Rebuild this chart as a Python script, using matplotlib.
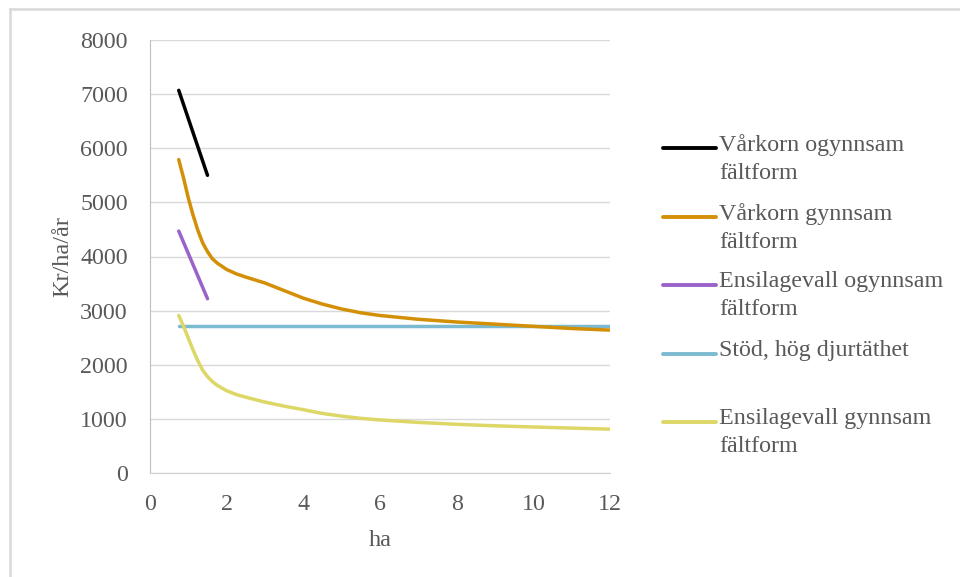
import matplotlib
matplotlib.use("Agg")
import matplotlib.pyplot as plt
from matplotlib.lines import Line2D

plt.rcParams['font.family'] = ['Liberation Serif', 'DejaVu Serif']

# data
x_short = [0.75, 1.5]
varkorn_ogynnsam = [7070, 5500]
ensilage_ogynnsam = [4470, 3220]

x_long = [0.75, 0.875, 1.0, 1.125, 1.25, 1.375, 1.5, 1.625, 1.75, 2, 2.25, 2.5,
          3, 3.5, 4, 4.5, 5, 5.5, 6, 7, 8, 9, 10, 11, 12]
varkorn_gynnsam = [5790, 5450, 5080, 4760, 4480, 4250, 4090, 3960, 3880, 3760, 3680, 3620,
                   3510, 3370, 3230, 3120, 3030, 2960, 2910, 2840, 2790, 2750, 2710, 2670, 2640]
ensilage_gynnsam = [2910, 2710, 2490, 2270, 2070, 1900, 1780, 1690, 1620, 1520, 1450, 1400,
                    1310, 1235, 1170, 1100, 1050, 1010, 980, 935, 900, 872, 850, 830, 810]

x_stod = [0.75, 12]
stod = [2710, 2710]

labels = ["Vårkorn ogynnsam\nfältform", "Vårkorn gynnsam\nfältform",
          "Ensilagevall ogynnsam\nfältform", "Stöd, hög djurtäthet",
          "Ensilagevall gynnsam\nfältform"]
colors = ["#000000", "#D38F06", "#9B63C9", "#7BBAD0", "#DCD766"]

txt = "#595959"

fig = plt.figure(figsize=(9.6, 5.77), dpi=100)
ax = fig.add_axes([150/960, 1-473/577, 460/960, 433/577])

series = [(x_short, varkorn_ogynnsam), (x_long, varkorn_gynnsam),
          (x_short, ensilage_ogynnsam), (x_stod, stod), (x_long, ensilage_gynnsam)]
# draw order: blue under orange near crossing
order = [3, 0, 2, 4, 1]
for i in order:
    xs, ys = series[i]
    ax.plot(xs, ys, color=colors[i], lw=2.5, solid_capstyle='round',
            solid_joinstyle='round', zorder=3)

ax.set_xlim(0, 12)
ax.set_ylim(0, 8000)
ax.set_xticks(range(0, 13, 2))
ax.set_yticks(range(0, 8001, 1000))
ax.grid(axis='y', color='#D9D9D9', lw=1.0)
ax.set_axisbelow(True)
for s in ['top', 'right']:
    ax.spines[s].set_visible(False)
ax.spines['left'].set_color('#BFBFBF')
ax.spines['bottom'].set_color('#D0D0D0')
ax.tick_params(length=0, labelsize=17.3, labelcolor=txt)
ax.tick_params(axis='x', pad=15)
ax.tick_params(axis='y', pad=16)
ax.set_ylabel("Kr/ha/år", fontsize=17.5, color=txt, labelpad=5)
ax.set_xlabel("ha", fontsize=17.5, color=txt, labelpad=11)

# legend drawn by hand so the handle sits on the first text line
W, H = 960, 577
ys_leg = [148, 217, 285, 354, 422]
for lab, c, yp in zip(labels, colors, ys_leg):
    fig.add_artist(Line2D([663/W, 716/W], [1-yp/H, 1-yp/H], color=c, lw=2.8,
                          solid_capstyle='round'))
    fig.text(719/W, 1-(yp-14)/H, lab, fontsize=17.3, color=txt, va='top',
             ha='left', linespacing=1.45)

# outer chart frame
fig.add_artist(Line2D([10/W, 10/W], [0, 1-9/H], color='#D9D9D9', lw=1.8))
fig.add_artist(Line2D([10/W, 1], [1-9/H, 1-9/H], color='#D9D9D9', lw=1.8))

fig.savefig("out.png", dpi=100)
